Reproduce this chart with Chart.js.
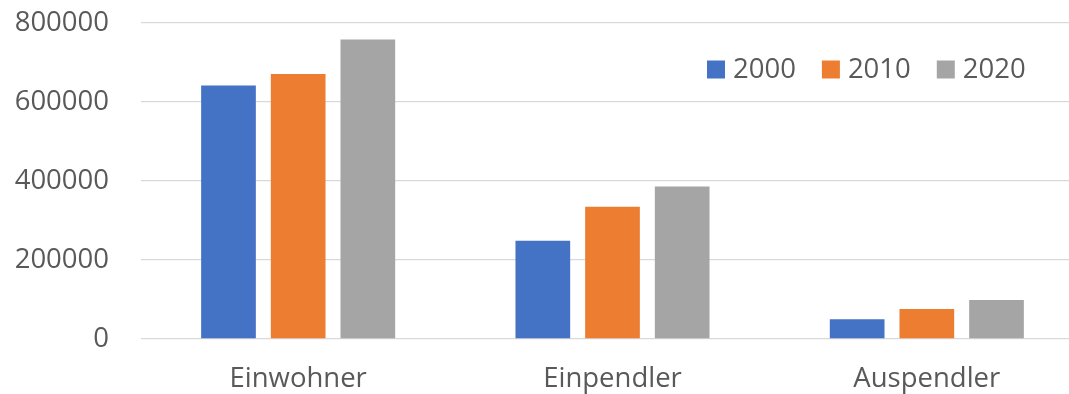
<!DOCTYPE html>
<html>
<head>
<meta charset="utf-8">
<script src="https://cdn.jsdelivr.net/npm/chart.js@4"></script>
<style>
  html, body { margin: 0; padding: 0; background: #fff; overflow: hidden; }
  #wrap { position: relative; width: 1084px; height: 394px; }
</style>
</head>
<body>
<div id="wrap"><canvas id="pendlerChart"></canvas></div>
<script>
const categories = ['Einwohner', 'Einpendler', 'Auspendler'];
const years = ['2000', '2010', '2020'];
const values2000 = [642000, 249000, 50000];
const values2010 = [671000, 335000, 76000];
const values2020 = [758000, 386000, 99000];
const yTicks = [0, 200000, 400000, 600000, 800000];

const colors = ['#4472C4', '#ED7D31', '#A5A5A5'];
const textColor = '#595959';
const fontFamily = "'Open Sans', 'Liberation Sans', sans-serif";
const fontSize = 27.5;

// Legend sits inside the plot area, top right
const innerLegend = {
    id: 'innerLegend',
    afterDatasetsDraw(chart) {
        const ctx = chart.ctx;
        const y = 69.5;
        const box = 18;
        let x = 707;
        ctx.save();
        ctx.font = `${fontSize}px ${fontFamily}`;
        ctx.textBaseline = 'middle';
        ctx.textAlign = 'left';
        chart.data.datasets.forEach(ds => {
            ctx.fillStyle = ds.backgroundColor;
            ctx.fillRect(x, y - box / 2, box, box);
            ctx.fillStyle = textColor;
            ctx.fillText(ds.label, x + box + 8, y + 1);
            x += box + 8 + ctx.measureText(ds.label).width + 26;
        });
        ctx.restore();
    }
};

const ctx = document.getElementById('pendlerChart').getContext('2d');
new Chart(ctx, {
    type: 'bar',
    data: {
        labels: categories,
        datasets: [
            { label: years[0], data: values2000, backgroundColor: colors[0] },
            { label: years[1], data: values2010, backgroundColor: colors[1] },
            { label: years[2], data: values2020, backgroundColor: colors[2] },
        ]
    },
    options: {
        responsive: true,
        maintainAspectRatio: false,
        animation: false,
        layout: { padding: { top: 23, right: 0, bottom: 0, left: 0 } },
        datasets: { bar: { categoryPercentage: 0.665, barPercentage: 0.785 } },
        plugins: {
            legend: { display: false },
            tooltip: { enabled: false }
        },
        scales: {
            x: {
                grid: { display: false, drawTicks: false },
                border: { display: false },
                ticks: {
                    color: textColor,
                    font: { family: fontFamily, size: fontSize },
                    padding: 24,
                    maxRotation: 0
                },
                afterFit(scale) {
                    scale.height = 55;
                    scale.paddingLeft = 0;
                    scale.paddingRight = 0;
                }
            },
            y: {
                min: 0,
                max: 800000,
                afterBuildTicks(scale) { scale.ticks = yTicks.map(v => ({ value: v })); },
                grid: { color: '#D9D9D9', lineWidth: 1.3, drawTicks: false },
                border: { display: false },
                ticks: {
                    color: textColor,
                    font: { family: fontFamily, size: fontSize },
                    padding: 32,
                    callback: v => String(v)
                },
                afterFit(scale) {
                    scale.width = 141;
                    scale.paddingTop = 0;
                    scale.paddingBottom = 0;
                }
            }
        }
    },
    plugins: [innerLegend]
});
</script>
</body>
</html>
